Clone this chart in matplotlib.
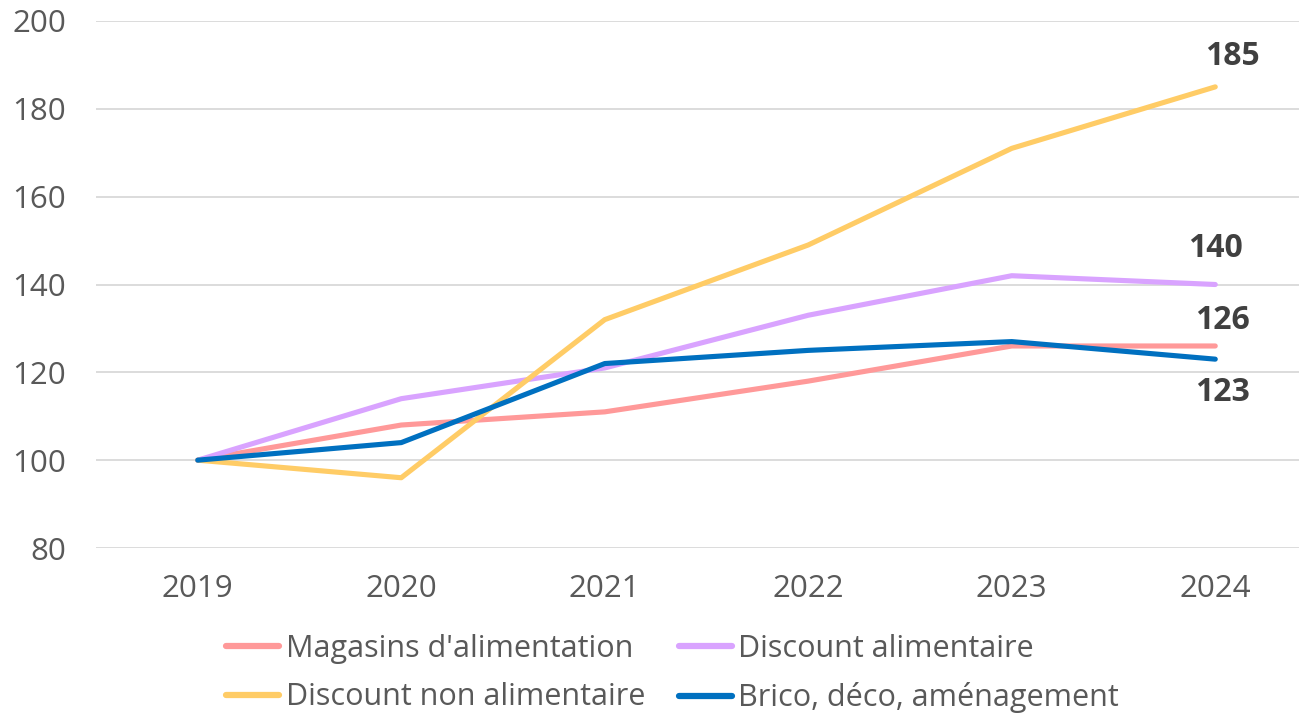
import matplotlib
matplotlib.use("Agg")
import matplotlib.pyplot as plt

years = ["2019", "2020", "2021", "2022", "2023", "2024"]
magasins = [100, 108, 111, 118, 126, 126]
discount_alim = [100, 114, 121, 133, 142, 140]
discount_non_alim = [100, 96, 132, 149, 171, 185]
brico = [100, 104, 122, 125, 127, 123]

series_names = ["Magasins d'alimentation", "Discount alimentaire",
                "Discount non alimentaire", "Brico, déco, aménagement"]
series_values = [magasins, discount_alim, discount_non_alim, brico]
series_colors = ["#FF9999", "#D9A3FF", "#FFCC66", "#0070C0"]

y_ticks = [80, 100, 120, 140, 160, 180, 200]

plt.rcParams["font.family"] = ["Open Sans", "DejaVu Sans"]

W, H = 1299, 714
fig = plt.figure(figsize=(W / 100, H / 100), dpi=100)
left, right = 96, 1317
top, bottom = 21, 548
ax = fig.add_axes([left / W, 1 - bottom / H, (right - left) / W, (bottom - top) / H])

x = list(range(len(years)))
lines = []
for name, vals, col in zip(series_names, series_values, series_colors):
    ln, = ax.plot(x, vals, color=col, lw=3.7, solid_capstyle="round",
                  solid_joinstyle="round", label=name, zorder=3)
    lines.append(ln)

ax.set_xlim(-0.5, 5.5)
ax.set_ylim(80, 200)
ax.set_yticks(y_ticks)
ax.set_xticks(x)
ax.set_xticklabels(years)
ax.grid(axis="y", color="#D9D9D9", lw=1.3, zorder=0)
for s in ax.spines.values():
    s.set_visible(False)
ax.tick_params(axis="both", length=0, labelsize=22.5, colors="#595959")
ax.tick_params(axis="y", pad=21.6)
ax.tick_params(axis="x", pad=19)

# End-of-series value labels
label_offsets = {
    2: (0.083, 7.0),   # Discount non alimentaire
    1: (0.0, 8.1),     # Discount alimentaire
    0: (0.035, 5.9),   # Magasins d'alimentation
    3: (0.035, -7.7),  # Brico
}
for i, (dx, dy) in label_offsets.items():
    v = series_values[i][-1]
    ax.text(x[-1] + dx, v + dy, f"{v}", ha="center", va="center",
            fontsize=23, fontweight="bold", color="#404040")

# Legend filled row by row (matplotlib fills columns first)
order = [0, 2, 1, 3]
leg = fig.legend(handles=[lines[i] for i in order], loc="upper left",
                 bbox_to_anchor=(226 / W, 1 - 634 / H),
                 ncol=2, frameon=False, fontsize=22, handlelength=1.75,
                 handletextpad=0.2, columnspacing=1.1, labelspacing=0.6,
                 borderaxespad=0, borderpad=0)
for t in leg.get_texts():
    t.set_color("#595959")
for h in leg.legend_handles:
    h.set_linewidth(4.5)

fig.savefig("out.png", dpi=100)
